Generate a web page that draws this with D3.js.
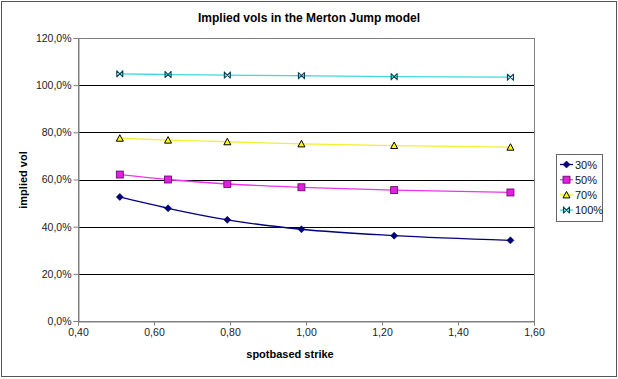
<!DOCTYPE html>
<html>
<head>
<meta charset="utf-8">
<script src="https://cdn.jsdelivr.net/npm/d3@7"></script>
<style>
  body { margin: 0; background: #fff; }
  svg { display: block; font-family: Arial, "Liberation Sans", sans-serif; }
</style>
</head>
<body>
<svg id="chart"></svg>
<script>
// spotbased strikes (x) and implied vols (fraction) per jump-size series
var strikes = [0.51, 0.637, 0.793, 0.988, 1.232, 1.538];
var vol30 = [0.526, 0.478, 0.429, 0.389, 0.362, 0.342];
var vol50 = [0.621, 0.600, 0.581, 0.567, 0.555, 0.545];
var vol70 = [0.775, 0.767, 0.760, 0.751, 0.744, 0.737];
var vol100 = [1.048, 1.045, 1.043, 1.040, 1.036, 1.034];
var seriesNames = ["30%", "50%", "70%", "100%"];
var xTicks = [0.4, 0.6, 0.8, 1.0, 1.2, 1.4, 1.6];
var yTicks = [0, 0.2, 0.4, 0.6, 0.8, 1.0, 1.2];

var width = 618, height = 379;
var plot = { left: 78, right: 534, top: 38, bottom: 321 };

var svg = d3.select("#chart")
            .attr("width", width)
            .attr("height", height);

var locale = d3.formatLocale({ decimal: ",", thousands: ".", grouping: [3], currency: ["", ""] });
var fmtX = locale.format(".2f");
var fmtY = locale.format(".1%");

// outer frame
svg.append("rect")
    .attr("x", 1.5).attr("y", 1.5)
    .attr("width", width - 3).attr("height", height - 4)
    .attr("fill", "#fff")
    .attr("stroke", "#555")
    .attr("stroke-width", 1);

var x = d3.scaleLinear()
          .domain([0.4, 1.6])
          .range([plot.left, plot.right]);

var y = d3.scaleLinear()
          .domain([0, 1.2])
          .range([plot.bottom, plot.top]);

// gridlines
svg.append("g")
    .selectAll("line")
    .data(yTicks.slice(1, -1))
    .enter()
    .append("line")
      .attr("x1", plot.left).attr("x2", plot.right)
      .attr("y1", d => Math.round(y(d)) + 0.5)
      .attr("y2", d => Math.round(y(d)) + 0.5)
      .attr("stroke", "#000")
      .attr("stroke-width", 1);

// plot area border
svg.append("rect")
    .attr("x", plot.left + 0.5).attr("y", plot.top + 0.5)
    .attr("width", plot.right - plot.left).attr("height", plot.bottom - plot.top)
    .attr("fill", "none")
    .attr("stroke", "#808080");

var xAxis = d3.axisBottom(x)
              .tickValues(xTicks)
              .tickSize(4)
              .tickPadding(3)
              .tickFormat(fmtX);

var yAxis = d3.axisLeft(y)
              .tickValues(yTicks)
              .tickSize(5)
              .tickPadding(2)
              .tickFormat(fmtY);

var gx = svg.append("g")
    .attr("transform", "translate(0," + (plot.bottom + 0.5) + ")")
    .call(xAxis);

var gy = svg.append("g")
    .attr("transform", "translate(" + (plot.left + 0.5) + ",0)")
    .call(yAxis);

[gx, gy].forEach(g => {
  g.select(".domain").attr("stroke", "#808080");
  g.selectAll(".tick line").attr("stroke", "#808080");
  g.selectAll(".tick text")
      .attr("fill", "#222")
      .style("font-size", "10.5px")
      .style("font-family", "Arial, 'Liberation Sans', sans-serif");
});

// titles
svg.append("text")
    .attr("x", 309)
    .attr("y", 22)
    .style("text-anchor", "middle")
    .style("font-size", "12px")
    .style("font-weight", "bold")
    .text("Implied vols in the Merton Jump model");

svg.append("text")
    .attr("x", 290)
    .attr("y", 358)
    .style("text-anchor", "middle")
    .style("font-size", "11px")
    .style("font-weight", "bold")
    .text("spotbased strike");

svg.append("text")
    .attr("transform", "translate(27,180) rotate(-90)")
    .style("text-anchor", "middle")
    .style("font-size", "11px")
    .style("font-weight", "bold")
    .text("implied vol");

// series
var series = [
  { name: seriesNames[0], values: vol30, line: "#000080", fill: "#000080", stroke: "#000040", shape: "diamond" },
  { name: seriesNames[1], values: vol50, line: "#ee33ee", fill: "#e020e0", stroke: "#600060", shape: "square" },
  { name: seriesNames[2], values: vol70, line: "#f2f030", fill: "#ffff00", stroke: "#000", shape: "triangle" },
  { name: seriesNames[3], values: vol100, line: "#40d8dc", fill: "none", stroke: "#004050", shape: "bowtie" }
];

var line = d3.line()
             .x(d => x(d[0]))
             .y(d => y(d[1]))
             .curve(d3.curveMonotoneX);

function drawMarker(g, shape, fill, stroke, cx, cy) {
  if (shape === "diamond") {
    g.append("path")
        .attr("d", "M" + cx + "," + (cy - 3.5) + "L" + (cx + 3.5) + "," + cy + "L" + cx + "," + (cy + 3.5) + "L" + (cx - 3.5) + "," + cy + "Z")
        .attr("fill", fill).attr("stroke", stroke).attr("stroke-width", 0.6);
  } else if (shape === "square") {
    g.append("rect")
        .attr("x", cx - 3.5).attr("y", cy - 3.5)
        .attr("width", 7).attr("height", 7)
        .attr("fill", fill).attr("stroke", stroke).attr("stroke-width", 0.8);
  } else if (shape === "triangle") {
    g.append("path")
        .attr("d", "M" + cx + "," + (cy - 3.5) + "L" + (cx + 3.5) + "," + (cy + 3) + "L" + (cx - 3.5) + "," + (cy + 3) + "Z")
        .attr("fill", fill).attr("stroke", stroke).attr("stroke-width", 1);
  } else {
    g.append("path")
        .attr("d", "M" + (cx - 3) + "," + (cy - 3) + "L" + (cx + 3) + "," + (cy + 3) +
                   "M" + (cx - 3) + "," + (cy + 3) + "L" + (cx + 3) + "," + (cy - 3) +
                   "M" + (cx - 3) + "," + (cy - 3.5) + "L" + (cx - 3) + "," + (cy + 3.5) +
                   "M" + (cx + 3) + "," + (cy - 3.5) + "L" + (cx + 3) + "," + (cy + 3.5))
        .attr("fill", "none").attr("stroke", stroke).attr("stroke-width", 1.1);
  }
}

series.forEach(s => {
  var pts = strikes.map((k, i) => [k, s.values[i]]);
  svg.append("path")
      .datum(pts)
      .attr("fill", "none")
      .attr("stroke", s.line)
      .attr("stroke-width", 1.3)
      .attr("d", line);
  var mg = svg.append("g");
  pts.forEach(p => drawMarker(mg, s.shape, s.fill, s.stroke, x(p[0]), y(p[1])));
});

// legend
var legend = svg.append("g");
legend.append("rect")
    .attr("x", 556.5).attr("y", 154.5)
    .attr("width", 46).attr("height", 67)
    .attr("fill", "#fff")
    .attr("stroke", "#666");

series.forEach((s, i) => {
  var ly = 164.5 + i * 15.2;
  legend.append("line")
      .attr("x1", 560).attr("x2", 573)
      .attr("y1", ly).attr("y2", ly)
      .attr("stroke", s.line)
      .attr("stroke-width", 1.3);
  drawMarker(legend, s.shape, s.fill, s.stroke, 566.5, ly);
  legend.append("text")
      .attr("x", 575)
      .attr("y", ly + 4)
      .style("font-size", "11px")
      .attr("fill", "#111")
      .text(s.name);
});
</script>
</body>
</html>
